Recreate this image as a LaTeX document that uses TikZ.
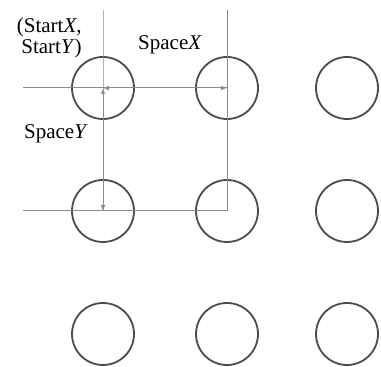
\documentclass[tikz,border=0pt]{standalone}
\usepackage{fontspec}
\setmainfont{Liberation Serif}
\usetikzlibrary{arrows.meta}

\tikzset{
  hole/.style={circle, draw=black!70, line width=0.9pt, minimum size=31pt, inner sep=0pt},
  guide/.style={draw=black!45, line width=0.5pt},
  gap/.style={guide, {Latex[length=3pt,width=2.4pt]}-{Latex[length=3pt,width=2.4pt]}},
  lbl/.style={font=\fontsize{10.5}{10.5}\selectfont, inner sep=0pt}
}

\begin{document}
\begin{tikzpicture}[x=0.5pt, y=-0.5pt]
  \useasboundingbox (0,0) rectangle (381,367);
  % grid of holes
  \foreach \r/\y in {1/88,2/211,3/334}
    \foreach \c/\x in {1/103,2/227,3/347}
      \node[hole] (c\r\c) at (\x,\y) {};
  \coordinate (T1) at (103,10);
  \coordinate (T2) at (227,10);
  \coordinate (L1) at (23,88);
  \coordinate (L2) at (23,211);
  \draw[guide] (T1) -- (c11.center) -- (c21.center);
  \draw[guide] (L1) -- (c12.center);
  \draw[guide] (T2) -- (c22.center) -- (L2);
  \draw[gap] (c11.center) -- (c12.center);
  \draw[gap] (c11.center) -- (c21.center);
  % labels
  \node[lbl, align=right, anchor=east] (start) at (82,38) {(Start\textit{X},\\Start\textit{Y})};
  \node[lbl] (spx) at (170,45) {Space\textit{X}};
  \node[lbl] (spy) at (56,134) {Space\textit{Y}};
\end{tikzpicture}
\end{document}
